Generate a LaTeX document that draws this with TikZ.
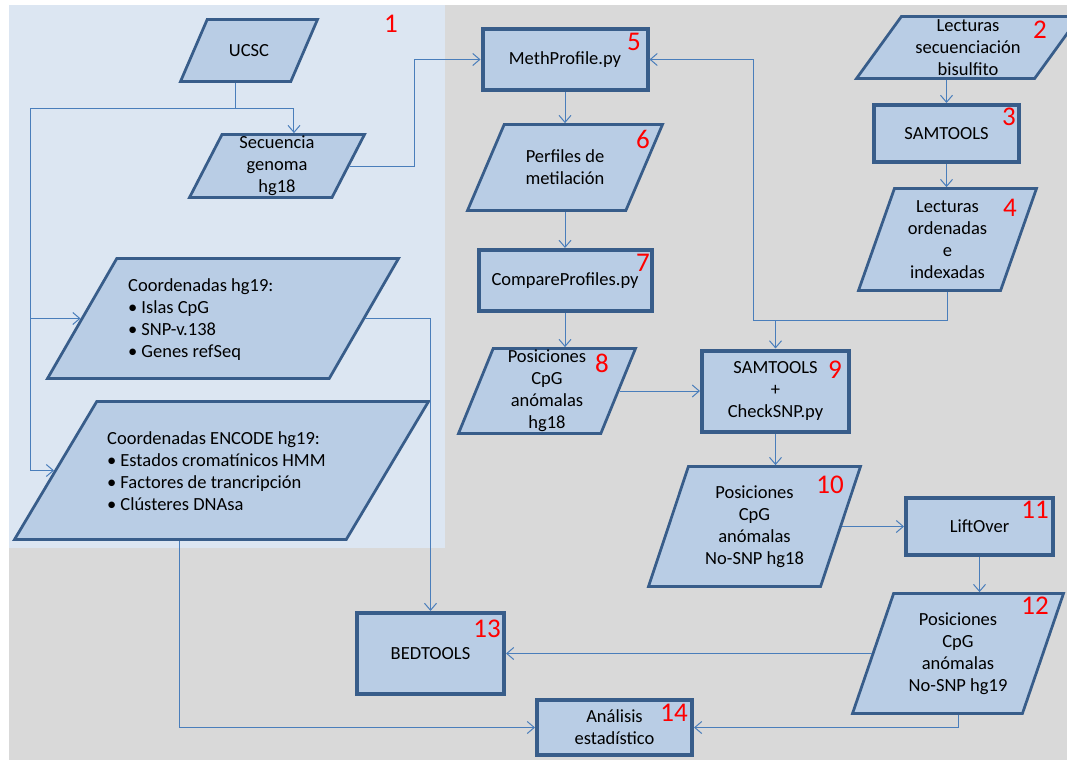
\documentclass[tikz,border=0pt]{standalone}
\usepackage{fontspec}
\setmainfont{Carlito}
\usetikzlibrary{shapes.geometric,arrows.meta}

\definecolor{fondo}{RGB}{217,217,217}
\definecolor{zona}{RGB}{220,230,242}
\definecolor{relleno}{RGB}{185,205,229}
\definecolor{borde}{RGB}{56,93,138}
\definecolor{linea}{RGB}{74,126,187}

\tikzset{
  proc/.style={rectangle, draw=borde, fill=relleno, line width=4pt, inner sep=0pt, align=center},
  io/.style 2 args={trapezium, trapezium left angle=#1, trapezium right angle=#2,
    trapezium stretches body, draw=borde, fill=relleno, line width=2.75pt,
    inner xsep=0pt},
  txt/.style={anchor=center, align=center, inner sep=0pt},
  lista/.style={anchor=west, align=left, inner sep=0pt},
  num/.style={text=red, font=\fontsize{27}{30}\selectfont, inner sep=0pt},
  conn/.style={draw=linea, line width=1pt}
}
\newcommand{\vin}{\textbullet\hspace{4pt}}

\begin{document}
\begin{tikzpicture}[x=1pt, y=-1pt, ->, >={Straight Barb[length=7pt,width=12pt]},
    font=\fontsize{18.5}{22}\selectfont]
    \useasboundingbox (0,0) rectangle (1067,760);
    \fill[white] (0,0) rectangle (1067,760);
    \fill[fondo] (9,5) rectangle (1067,760);
    \fill[zona] (9,5) rectangle (445,548);

    % bloque 1
    \node [io={66.7}{113.3}, minimum width=137pt, inner ysep=31pt,
      label={[txt]center:UCSC}] (ucsc) at (249,50.5) {};
    \node [io={62.7}{117.3}, minimum width=175pt, inner ysep=31.5pt,
      label={[txt]center:{Secuencia\\genoma\\hg18}}] (seq) at (277,166) {};
    \node [io={60}{120}, minimum width=351pt, inner ysep=60pt] (hg19) at (223,318.5) {};
    \node [lista] (hg19txt) at (128,320) {Coordenadas hg19:\\\vin Islas CpG\\\vin SNP-v.138\\\vin Genes refSeq};
    \node [io={59.2}{120.8}, minimum width=414pt, inner ysep=69pt] (enc) at (221.5,470.5) {};
    \node [lista] (enctxt) at (107,471.5) {Coordenadas ENCODE hg19:\\\vin Estados cromatínicos HMM\\\vin Factores de trancripción\\\vin Clústeres DNAsa};

    % perfiles
    \node [proc, minimum width=165pt, minimum height=61pt] (meth) at (565,59.5) {MethProfile.py};
    \node [io={66.9}{113.1}, minimum width=195pt, inner ysep=43pt,
      label={[txt]center:{Perfiles de\\metilación}}] (perf) at (565,167.5) {};
    \node [proc, minimum width=173pt, minimum height=61pt] (comp) at (565,280.5) {CompareProfiles.py};
    \node [io={67.8}{112.2}, minimum width=177pt, inner ysep=42.5pt,
      label={[txt]center:{Posiciones\\CpG\\anómalas\\hg18}}] (pos8) at (547,391) {};

    % lecturas
    \node [io={54.1}{125.9}, minimum width=223pt, inner ysep=31pt,
      label={[txt]center:{Lecturas\\secuenciación\\bisulfito}}] (lect) at (968,47.5) {};
    \node [proc, minimum width=145pt, minimum height=57pt] (samA) at (946.5,133.5) {SAMTOOLS};
    \node [io={70.6}{109.4}, minimum width=178pt, inner ysep=51pt,
      label={[txt]center:{Lecturas\\ordenadas\\e\\indexadas}}] (lord) at (947.5,239.5) {};
    \node [proc, minimum width=147pt, minimum height=81pt] (samB) at (775.5,391) {SAMTOOLS\\+\\CheckSNP.py};
    \node [io={71.6}{108.4}, minimum width=212pt, inner ysep=60pt,
      label={[txt]center:{Posiciones\\CpG\\anómalas\\No-SNP hg18}}] (pos10) at (754.5,526.5) {};
    \node [proc, minimum width=147pt, minimum height=57pt] (lift) at (979.5,526.5) {LiftOver};
    \node [io={71.1}{108.9}, minimum width=211pt, inner ysep=60pt,
      label={[txt]center:{Posiciones\\CpG\\anómalas\\No-SNP hg19}}] (pos12) at (958,653.5) {};

    % final
    \node [proc, minimum width=147pt, minimum height=81pt] (bed) at (430.5,653.5) {BEDTOOLS};
    \node [proc, minimum width=155pt, minimum height=55pt] (ana) at (614.5,727.5) {Análisis\\estadístico};

    % numeros
    \node [num] (l1) at (391,24) {1};
    \node [num] (l2) at (1040,30) {2};
    \node [num] (l3) at (1009,117) {3};
    \node [num] (l4) at (1010,208) {4};
    \node [num] (l5) at (634,42) {5};
    \node [num] (l6) at (643,139) {6};
    \node [num] (l7) at (643,263) {7};
    \node [num] (l8) at (602,363) {8};
    \node [num] (l9) at (835,370) {9};
    \node [num] (l10) at (830,485) {10};
    \node [num] (l11) at (1035,510) {11};
    \node [num] (l12) at (1035,606) {12};
    \node [num] (l13) at (487,629) {13};
    \node [num] (l14) at (674,713) {14};

    \coordinate (rama) at (30,108);
    \coordinate (sube) at (414,166);
    \coordinate (junta) at (753,320);

    \draw [conn,-] (ucsc.bottom side) -- (ucsc.bottom side |- rama);
    \draw [conn] (rama) -| (seq.top side);
    \draw [conn] (rama) |- (hg19.left side);
    \draw [conn] (rama) |- (enc.left side);
    \draw [conn] (seq.right side) -- (sube) |- (meth.west);
    \draw [conn] (meth) -- (perf);
    \draw [conn] (perf) -- (comp);
    \draw [conn] (comp.south) -- (comp.south |- pos8.top side);
    \draw [conn] (pos8) -- (samB);
    \draw [conn] (samA.north |- lect.bottom side) -- (samA.north);
    \draw [conn] (samA.south) -- (samA.south |- lord.top side);
    \draw [conn,-] (lord.center |- lord.bottom side) |- (junta);
    \draw [conn] (junta) |- (meth.east);
    \draw [conn] (samB.north |- junta) -- (samB.north);
    \draw [conn] (samB.south) -- (samB.south |- pos10.top side);
    \draw [conn] (pos10) -- (lift);
    \draw [conn] (lift.south) -- (lift.south |- pos12.top side);
    \draw [conn] (pos12) -- (bed);
    \draw [conn] (pos12.center |- pos12.bottom side) |- (ana.east);
    \draw [conn] (hg19.right side) -| (bed.north);
    \draw [conn] (enc.bottom side) |- (ana.west);
\end{tikzpicture}
\end{document}
